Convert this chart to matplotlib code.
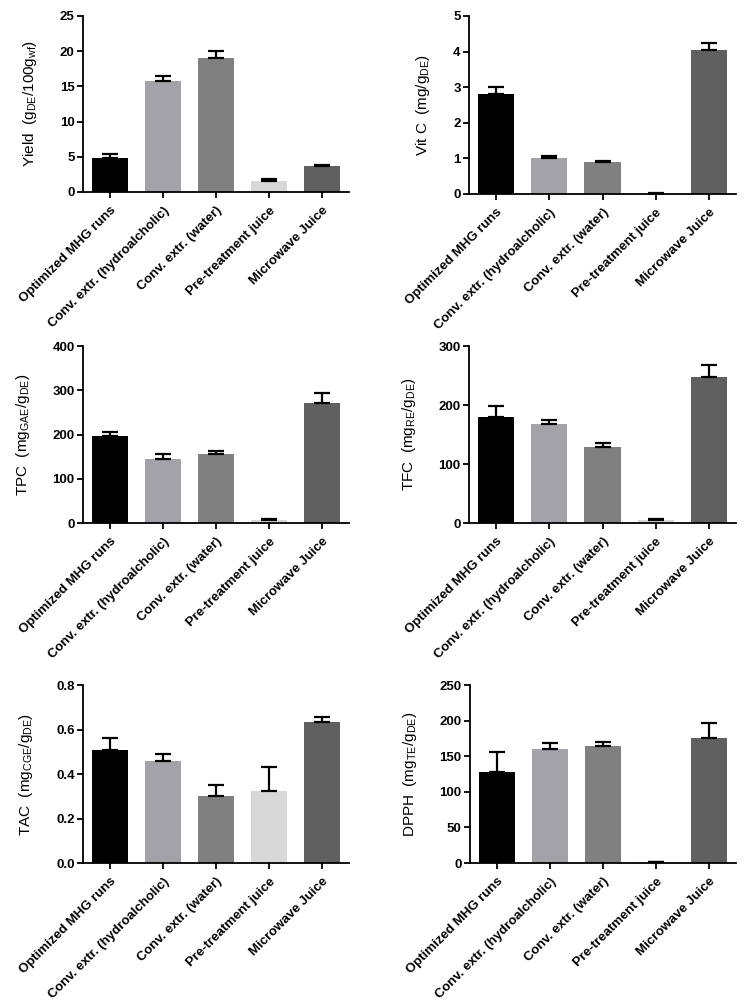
import matplotlib
matplotlib.use("Agg")
import matplotlib.pyplot as plt
import numpy as np

plt.rcParams['font.family'] = ['Liberation Sans', 'DejaVu Sans']
plt.rcParams['mathtext.fontset'] = 'custom'
plt.rcParams['mathtext.rm'] = 'Liberation Sans'
plt.rcParams['mathtext.default'] = 'regular'

categories = ["Optimized MHG runs", "Conv. extr. (hydroalcholic)", "Conv. extr. (water)",
              "Pre-treatment juice", "Microwave Juice"]
bar_colors = ['#000000', '#a3a2a8', '#808080', '#d8d8d8', '#606060']

yield_mean = [4.9, 15.8, 19.1, 1.6, 3.7]
yield_err = [0.5, 0.7, 0.9, 0.2, 0.1]

vitc_mean = [2.8, 1.02, 0.9, 0.01, 4.05]
vitc_err = [0.2, 0.05, 0.04, 0.01, 0.18]

tpc_mean = [197, 145, 157, 6, 271]
tpc_err = [8, 10, 6, 2, 23]

tfc_mean = [180, 167, 129, 5, 247]
tfc_err = [18, 8, 6, 2, 20]

tac_mean = [0.51, 0.46, 0.30, 0.325, 0.635]
tac_err = [0.05, 0.03, 0.05, 0.105, 0.02]

dpph_mean = [128, 160, 164, 1, 176]
dpph_err = [28, 8, 6, 1, 21]

W, H = 746, 1005
fig = plt.figure(figsize=(W / 100, H / 100), dpi=100)


def add_panel(px, mean, err, ylabel, ymax, yticks, fmt):
    x0, y0, x1, y1 = px
    ax = fig.add_axes([x0 / W, 1 - y1 / H, (x1 - x0) / W, (y1 - y0) / H])
    x = np.arange(len(mean))
    ax.bar(x, mean, width=0.68, color=bar_colors, zorder=2)
    ax.errorbar(x, mean, yerr=[np.zeros(len(err)), err], fmt='none', ecolor='black',
                elinewidth=1.6, capsize=6, capthick=1.6, zorder=3)
    ax.set_xlim(-0.51, 4.51)
    ax.set_ylim(0, ymax)
    ax.set_yticks(yticks)
    ax.set_yticklabels([fmt.format(t) for t in yticks], fontweight='bold', fontsize=9.5)
    ax.set_xticks(x)
    ax.set_xticklabels(categories, rotation=45, ha='right', rotation_mode='anchor',
                       fontweight='bold', fontsize=9.5)
    ax.set_ylabel(ylabel, fontsize=11, labelpad=15)
    for s in ['top', 'right']:
        ax.spines[s].set_visible(False)
    for s in ['left', 'bottom']:
        ax.spines[s].set_linewidth(1.3)
    ax.tick_params(direction='out', length=4, width=1.3, pad=2)
    ax.tick_params(axis='x', pad=5)
    return ax


add_panel((83, 16, 349, 192), yield_mean, yield_err,
          r'Yield  (g$_{DE}$/100g$_{wf}$)', 25, [0, 5, 10, 15, 20, 25], '{:g}')
add_panel((469, 16, 736, 194), vitc_mean, vitc_err,
          r'Vit C  (mg/g$_{DE}$)', 5, [0, 1, 2, 3, 4, 5], '{:g}')
add_panel((83, 346, 349, 523), tpc_mean, tpc_err,
          r'TPC  (mg$_{GAE}$/g$_{DE}$)', 400, [0, 100, 200, 300, 400], '{:g}')
add_panel((469, 346, 736, 523), tfc_mean, tfc_err,
          r'TFC  (mg$_{RE}$/g$_{DE}$)', 300, [0, 100, 200, 300], '{:g}')
add_panel((83, 685, 349, 863), tac_mean, tac_err,
          r'TAC  (mg$_{CGE}$/g$_{DE}$)', 0.8, [0, 0.2, 0.4, 0.6, 0.8], '{:.1f}')
add_panel((470, 685, 736, 863), dpph_mean, dpph_err,
          r'DPPH  (mg$_{TE}$/g$_{DE}$)', 250, [0, 50, 100, 150, 200, 250], '{:g}')

fig.savefig('out.png', dpi=100)
